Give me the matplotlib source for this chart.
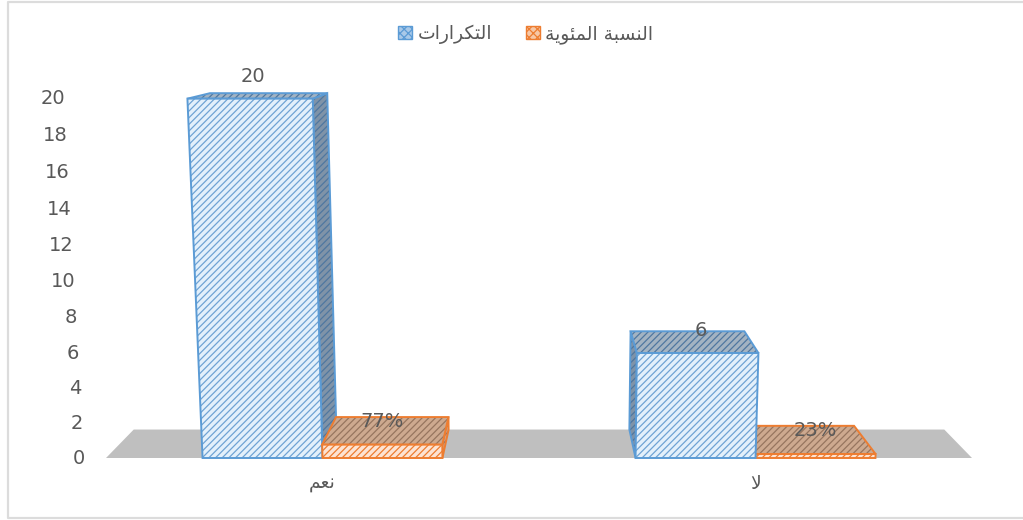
import matplotlib
matplotlib.use("Agg")
import matplotlib.pyplot as plt
from matplotlib.lines import Line2D
from matplotlib.patches import Patch, Polygon

plt.rcParams["font.family"] = ["DejaVu Sans"]
plt.rcParams["hatch.linewidth"] = 0.9

# arabic is written in presentation forms, reversed because matplotlib has no bidi
categories = ["\ufee7\ufecc\ufee2"[::-1], "\ufefb"]
series_names = [
    "\ufe8d\ufedf\ufe98\ufedc\ufeae\ufe8d\ufead\ufe8d\ufe95"[::-1],
    "\ufe8d\ufedf\ufee8\ufeb4\ufe92\ufe94 \ufe8d\ufedf\ufee4\ufe8c\ufeee\ufef3\ufe94"[::-1],
]
counts = [20, 6]
shares = [0.77, 0.23]
count_labels = ["20", "6"]
share_labels = ["77%", "23%"]
y_ticks = list(range(0, 21, 2))

BAR_W = 0.277
VP_X, VP_Y = 0.5, 24.7  # vanishing point in data units
DEPTH = 0.064
TAPER = 0.00225
TEXT = "#595959"
HATCH = "/////"

fig = plt.figure(figsize=(10.23, 5.2), dpi=100)
# the frame has no right side in the picture
fig.add_artist(Line2D([1023 / 1023, 7.5 / 1023, 7.5 / 1023, 1023 / 1023],
                      [2 / 520, 2 / 520, 518 / 520, 518 / 520],
                      color="#dcdcdc", lw=1.6, transform=fig.transFigure))
ax = fig.add_axes([106 / 1023, (520 - 458) / 520, 866 / 1023, 360 / 520])
ax.set_xlim(-0.5, 1.5)
ax.set_ylim(0, 20)
for s in ax.spines.values():
    s.set_visible(False)


def project(x, h, back=False):
    # front plane widens with height and its scale grows a bit,
    # back plane moves to the vanishing point
    px = VP_X + (x - VP_X) * (1 + TAPER * h)
    py = h * (0.961 + 0.00186 * h)
    if back:
        px += (VP_X - px) * DEPTH
        py += (VP_Y - py) * DEPTH
    return px, py


def face(pts, fc, ec, hatch=None, hatch_color=None, z=2):
    if hatch:
        ax.add_patch(Polygon(pts, closed=True, fc=fc, ec=hatch_color, lw=0, hatch=hatch,
                             zorder=z, clip_on=False))
        fc = "none"
    ax.add_patch(Polygon(pts, closed=True, fc=fc, ec=ec, lw=1.4, zorder=z, clip_on=False))


def draw_bar(x0, h, style, z):
    x1 = x0 + BAR_W
    # side towards the middle of the chart
    side_x = x1 if x1 < VP_X else x0
    face([project(side_x, 0), project(side_x, h), project(side_x, h, True), project(side_x, 0, True)],
         style["side"], style["edge"], HATCH, style["dark_hatch"], z)
    face([project(x0, h), project(x1, h), project(x1, h, True), project(x0, h, True)],
         style["top"], style["edge"], HATCH, style["dark_hatch"], z)
    face([project(x0, 0), project(x1, 0), project(x1, h), project(x0, h)],
         style["front"], style["edge"], HATCH, style["hatch"], z)


blue_style = {"front": "#e3f0fb", "side": "#7f93a8", "top": "#a3b3c2",
              "edge": "#5b9bd5", "hatch": "#6fa3d4", "dark_hatch": "#4f77a0"}
orange_style = {"front": "#fde3d3", "side": "#c9a48c", "top": "#cda98f",
                "edge": "#ed7d31", "hatch": "#ed7d31", "dark_hatch": "#96755f"}

# floor
face([project(-0.5, 0), project(1.5, 0), project(1.5, 0, True), project(-0.5, 0, True)],
     "#bfbfbf", "none", z=1)

for i in range(len(categories)):
    blue = (i - BAR_W, counts[i], blue_style)
    orange = (i, shares[i], orange_style)
    # the bar further from the middle goes first
    order = [blue, orange] if i < VP_X else [orange, blue]
    for n, bar in enumerate(order):
        draw_bar(*bar, z=2 + n)

for i in range(len(categories)):
    ax.annotate(count_labels[i], project(i - BAR_W / 2, counts[i]), xytext=(2, 16),
                textcoords="offset points", ha="center", va="center", color=TEXT,
                fontsize=14, zorder=6, annotation_clip=False)
    ax.annotate(share_labels[i], project(i + BAR_W / 2, shares[i]), xytext=(0, 17),
                textcoords="offset points", ha="center", va="center", color=TEXT,
                fontsize=14, zorder=6, annotation_clip=False)

# value axis follows the slant of the front plane
for v in y_ticks:
    ax.annotate(str(v), project(-0.5, v), xytext=(-15, 0), textcoords="offset points",
                ha="right", va="center", color=TEXT, fontsize=14, annotation_clip=False)
ax.set_yticks([])

ax.set_xticks(range(len(categories)))
ax.set_xticklabels(categories, fontsize=13.5, color=TEXT)
ax.tick_params(axis="x", length=0, pad=11.5)

handles = [
    Patch(fc="#a9c9e8", ec="#5b9bd5", hatch="xxxx", lw=1),
    Patch(fc="#f6c7a6", ec="#ed7d31", hatch="xxxx", lw=1),
]
fig.legend(handles, series_names, loc="center", bbox_to_anchor=(525.5 / 1023, (520 - 34) / 520),
           ncol=2, frameon=False, handlelength=0.75, handleheight=0.7, handletextpad=0.3,
           columnspacing=1.8, labelcolor=TEXT, prop={"size": 13.5})

fig.savefig("out.png", dpi=100)
